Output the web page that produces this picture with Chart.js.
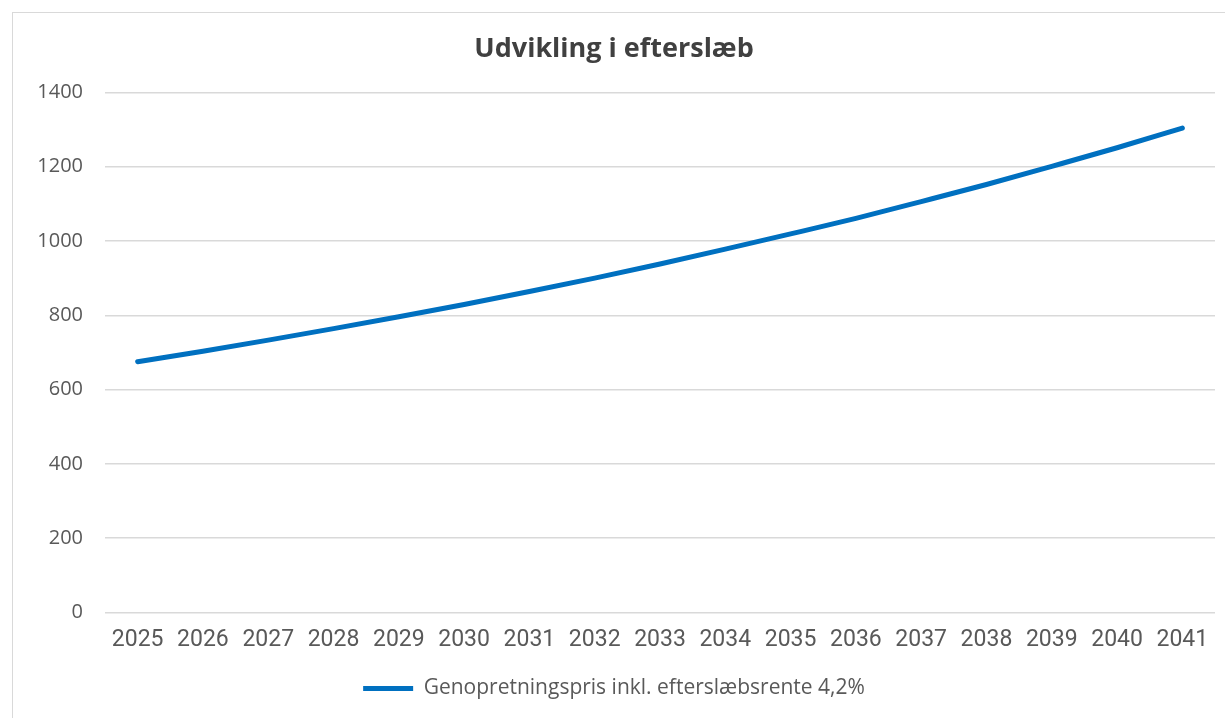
<!DOCTYPE html>
<html lang="da">
<head>
<meta charset="utf-8">
<title>Udvikling i efterslæb</title>
<script src="https://cdn.jsdelivr.net/npm/chart.js@4.4.1/dist/chart.umd.min.js"></script>
<style>
    html, body {
        margin: 0;
        padding: 0;
        background: #ffffff;
        overflow: hidden;
    }
    .chart-box {
        position: absolute;
        left: 12px;
        top: 12px;
        width: 1220px;
        height: 712px;
        border: 1px solid #d9d9d9;
        box-sizing: border-box;
    }
    .chart-wrap {
        position: absolute;
        left: 13px;
        top: 13px;
        width: 1212px;
        height: 705px;
    }
</style>
</head>
<body>
<div class="chart-box"></div>
<div class="chart-wrap">
    <canvas id="backlogChart"></canvas>
</div>
<script>
/* ===== DATA ===== */
const years = ['2025', '2026', '2027', '2028', '2029', '2030', '2031', '2032', '2033',
               '2034', '2035', '2036', '2037', '2038', '2039', '2040', '2041'];
const backlogValues = [675, 703, 733, 764, 796, 829, 864, 900, 938,
                       978, 1019, 1061, 1106, 1152, 1201, 1251, 1304];
const yTicks = [0, 200, 400, 600, 800, 1000, 1200, 1400];
const seriesLabel = 'Genopretningspris inkl. efterslæbsrente 4,2%';
const chartTitle = 'Udvikling i efterslæb';

/* ===== CHART ===== */
function createChart() {
    const ctx = document.getElementById('backlogChart').getContext('2d');

    new Chart(ctx, {
        type: 'line',
        data: {
            labels: years,
            datasets: [
                {
                    label: seriesLabel,
                    data: backlogValues,
                    borderColor: '#0070c0',
                    backgroundColor: '#0070c0',
                    borderWidth: 5,
                    borderCapStyle: 'round',
                    fill: false,
                    tension: 0.4,
                    cubicInterpolationMode: 'monotone',
                    pointRadius: 0,
                    pointHoverRadius: 0
                }
            ]
        },
        options: {
            responsive: true,
            maintainAspectRatio: false,
            animation: false,
            layout: {
                padding: { left: 0, right: 10, top: 0, bottom: 9 }
            },
            plugins: {
                title: {
                    display: true,
                    text: chartTitle,
                    color: '#404040',
                    font: { family: '"Open Sans", sans-serif', size: 27, weight: 'bold' },
                    padding: { top: 20, bottom: 27 }
                },
                legend: {
                    display: true,
                    position: 'bottom',
                    labels: {
                        color: '#595959',
                        font: { family: '"Open Sans", sans-serif', size: 21 },
                        usePointStyle: true,
                        pointStyle: 'line',
                        pointStyleWidth: 50,
                        padding: 10
                    }
                },
                tooltip: { enabled: false }
            },
            scales: {
                y: {
                    min: 0,
                    max: 1400,
                    afterBuildTicks: function(scale) {
                        scale.ticks = yTicks.map(v => ({ value: v }));
                    },
                    afterFit: function(scale) {
                        scale.width = 92;
                    },
                    ticks: {
                        color: '#595959',
                        font: { family: '"Open Sans", sans-serif', size: 20 },
                        padding: 22,
                        callback: function(value) {
                            return String(value);
                        }
                    },
                    grid: {
                        color: '#d9d9d9',
                        lineWidth: 1.5,
                        drawTicks: false
                    },
                    border: { display: false }
                },
                x: {
                    offset: true,
                    ticks: {
                        color: '#595959',
                        font: { family: 'Roboto, sans-serif', size: 23 },
                        autoSkip: false,
                        maxRotation: 0,
                        padding: 14
                    },
                    grid: {
                        display: false,
                        drawTicks: false
                    },
                    border: { display: false }
                }
            }
        }
    });
}

document.addEventListener('DOMContentLoaded', createChart);
</script>
</body>
</html>
